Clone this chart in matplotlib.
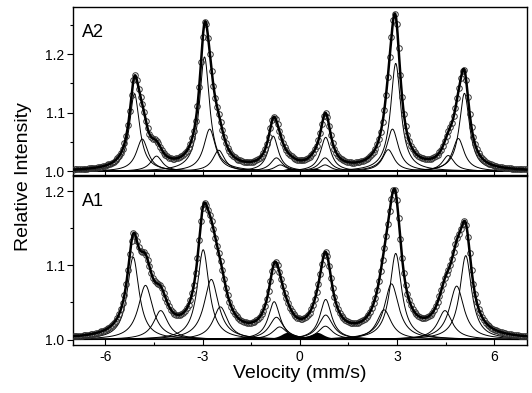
import numpy as np
import matplotlib
matplotlib.use('Agg')
import matplotlib.pyplot as plt
from matplotlib.ticker import MultipleLocator, FormatStrFormatter

plt.rcParams['font.family'] = ['Liberation Sans', 'DejaVu Sans']
plt.rcParams['axes.unicode_minus'] = False

# --- fitted subspectra ---
# line positions (mm/s), peak heights above baseline, half widths (mm/s)
A2_POS = [
    [-5.10, -2.94, -0.82, 0.80, 2.96, 5.08],   # sextet 1
    [-4.86, -2.78, -0.72, 0.78, 2.86, 4.89],   # sextet 2
    [-4.42, -2.50, -0.60, 0.78, 2.73, 4.58],   # sextet 3
]
A2_HGT = [
    [0.132, 0.195, 0.060, 0.058, 0.184, 0.133],
    [0.055, 0.072, 0.023, 0.023, 0.072, 0.056],
    [0.026, 0.036, 0.011, 0.011, 0.037, 0.027],
]
A2_HWHM = [0.19, 0.22, 0.22]
A2_DOUBLET_POS = [-0.30, 0.45]
A2_DOUBLET_HGT = [0.005, 0.005]

A1_POS = [
    [-5.14, -2.98, -0.79, 0.80, 2.96, 5.12],
    [-4.76, -2.73, -0.72, 0.80, 2.83, 4.84],
    [-4.29, -2.45, -0.62, 0.79, 2.60, 4.48],
]
A1_HGT = [
    [0.111, 0.121, 0.051, 0.054, 0.116, 0.113],
    [0.073, 0.081, 0.030, 0.033, 0.075, 0.072],
    [0.039, 0.044, 0.017, 0.018, 0.040, 0.039],
]
A1_HWHM = [0.22, 0.27, 0.27]
A1_DOUBLET_POS = [-0.40, 0.55]
A1_DOUBLET_HGT = [0.009, 0.009]
DOUBLET_HWHM = 0.25

N_CHANNELS = 256


def lorentz_sum(v, pos, hgt, g):
    out = np.zeros_like(v)
    for p, h in zip(pos, hgt):
        out += h * g**2 / ((v - p)**2 + g**2)
    return out


def draw_panel(ax, pos_list, hgt_list, widths, d_pos, d_hgt, label):
    v = np.linspace(-7, 7, 1600)
    vc = np.linspace(-7, 7, N_CHANNELS)

    doublet = 1.0 + lorentz_sum(v, d_pos, d_hgt, DOUBLET_HWHM)
    ax.fill_between(v, 1.0, doublet, color='black', lw=0, zorder=2)

    total = np.ones_like(v)
    total_c = np.ones_like(vc)
    for pos, hgt, g in zip(pos_list, hgt_list, widths):
        # each line drawn separately like in the original fit plot
        for p, h in zip(pos, hgt):
            ax.plot(v, 1.0 + lorentz_sum(v, [p], [h], g), color='black', lw=0.7, zorder=2)
        total += lorentz_sum(v, pos, hgt, g)
        total_c += lorentz_sum(vc, pos, hgt, g)
    total += doublet - 1.0
    total_c += lorentz_sum(vc, d_pos, d_hgt, DOUBLET_HWHM)

    ax.plot(vc, total_c, 'o', ms=4.0, mfc='none', mec='#333333', mew=0.7, zorder=3)
    ax.plot(v, total, color='black', lw=1.8, zorder=4)

    ax.set_xlim(-7, 7)
    ax.xaxis.set_major_locator(MultipleLocator(3))
    ax.xaxis.set_minor_locator(MultipleLocator(1.5))
    ax.yaxis.set_minor_locator(MultipleLocator(0.05))
    ax.set_yticks([1.0, 1.1, 1.2])
    ax.yaxis.set_major_formatter(FormatStrFormatter('%.1f'))
    ax.xaxis.set_major_formatter(FormatStrFormatter('%d'))
    ax.tick_params(axis='x', which='both', direction='in', top=False, labelsize=10)
    ax.tick_params(axis='x', which='major', length=4, width=0.8)
    ax.tick_params(axis='x', which='minor', length=2.5, width=0.8)
    ax.tick_params(axis='y', which='both', direction='out', right=False, labelsize=10)
    ax.tick_params(axis='y', which='major', length=4, width=0.8, pad=2)
    ax.tick_params(axis='y', which='minor', length=2.5, width=0.8)
    for s in ax.spines.values():
        s.set_linewidth(1.0)
    ax.text(0.02, 0.85, label, transform=ax.transAxes, fontsize=13, va='center', ha='left')


fig = plt.figure(figsize=(5.32, 3.93), dpi=100)
ax_top = fig.add_axes([0.137, 0.555, 0.853, 0.427])
ax_bot = fig.add_axes([0.137, 0.122, 0.853, 0.430])

draw_panel(ax_top, A2_POS, A2_HGT, A2_HWHM, A2_DOUBLET_POS, A2_DOUBLET_HGT, 'A2')
draw_panel(ax_bot, A1_POS, A1_HGT, A1_HWHM, A1_DOUBLET_POS, A1_DOUBLET_HGT, 'A1')

ax_top.set_ylim(0.994, 1.280)
ax_bot.set_ylim(0.9926, 1.2202)
ax_top.tick_params(axis='x', labelbottom=False)

ax_bot.set_xlabel('Velocity (mm/s)', fontsize=14, labelpad=1)
fig.text(0.045, 0.552, 'Relative Intensity', rotation=90, fontsize=14, ha='center', va='center')

fig.savefig('out.png', dpi=100)
